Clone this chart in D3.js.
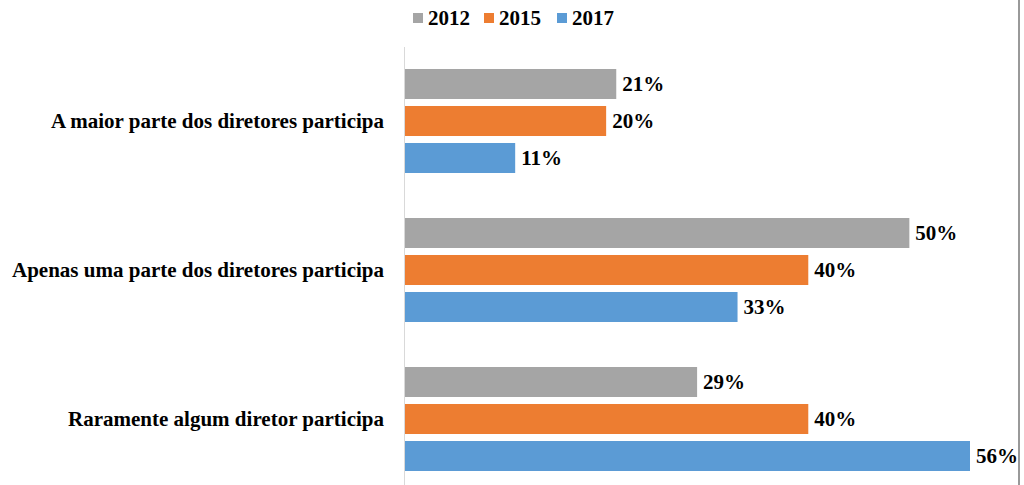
<!DOCTYPE html>
<html><head><meta charset="utf-8">
<script src="https://cdn.jsdelivr.net/npm/d3@7"></script>
<style>body{margin:0;background:#fff}svg{display:block}text{font-family:"Liberation Serif","Times New Roman",serif;font-weight:bold;fill:#000}</style>
</head><body><svg id="c" width="1024" height="485"></svg>
<script>
const categories = ["A maior parte dos diretores participa","Apenas uma parte dos diretores participa","Raramente algum diretor participa"];
const series = ["2012","2015","2017"];
const values2012 = [21,50,29];
const values2015 = [20,40,40];
const values2017 = [11,33,56];
const colors = ["#a5a5a5","#ed7d31","#5b9bd5"];
const allVals = [values2012,values2015,values2017];

const svg = d3.select("#c");
const x = d3.scaleLinear().domain([0,56]).range([404,970]);
const y0 = d3.scaleBand().domain(categories).range([47,494]).paddingInner(0).paddingOuter(0);
const y1 = d3.scaleBand().domain(series).range([22,126]).paddingInner(0.189);
const fs = 21;

// right border
svg.append("line").attr("x1",1019).attr("x2",1019).attr("y1",0).attr("y2",485).attr("stroke","#777").attr("stroke-width",1.5);

const g = svg.selectAll("g.cat").data(categories).join("g").attr("class","cat")
  .attr("transform",d=>`translate(0,${y0(d)})`);
series.forEach((s,si)=>{
  g.append("rect").attr("x",x(0)).attr("y",y1(s)).attr("height",y1.bandwidth())
    .attr("width",(d,i)=>x(allVals[si][i])-x(0)).attr("fill",colors[si]);
  g.append("text").attr("x",(d,i)=>x(allVals[si][i])+6).attr("y",y1(s)+y1.bandwidth()/2)
    .attr("dy","0.35em").attr("font-size",fs).text((d,i)=>allVals[si][i]+"%");
});
g.append("text").attr("x",384).attr("y",y1("2015")+y1.bandwidth()/2).attr("dy","0.35em")
  .attr("text-anchor","end").attr("font-size",fs).text(d=>d);

// axis line
svg.append("line").attr("x1",404.5).attr("x2",404.5).attr("y1",47).attr("y2",485).attr("stroke","#d9d9d9").attr("stroke-width",1);

// legend
const legX = [413,484,557];
series.forEach((s,i)=>{
  svg.append("rect").attr("x",legX[i]).attr("y",13).attr("width",10).attr("height",10).attr("fill",colors[i]);
  svg.append("text").attr("x",legX[i]+15).attr("y",18).attr("dy","0.35em").attr("font-size",fs).text(s);
});
</script></body></html>
